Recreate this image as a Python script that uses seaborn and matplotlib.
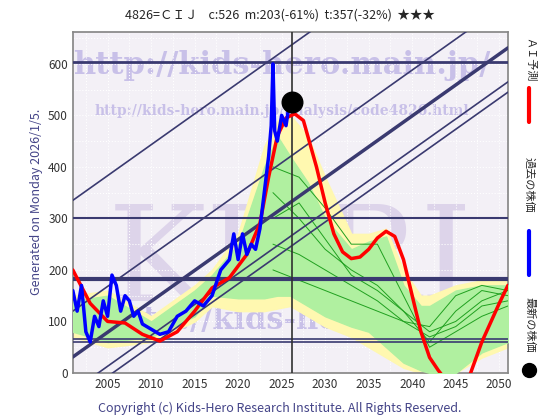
import matplotlib
matplotlib.use('agg')
import matplotlib.pyplot as plt
import seaborn as sns
import numpy as np

sns.set_theme(style='white')
plt.rcParams['font.family'] = ['Noto Sans CJK JP', 'DejaVu Sans']

# AI prediction (red)
ai_year = [2001, 2003, 2005, 2007, 2009, 2011, 2013, 2015, 2017, 2019, 2021, 2022.5, 2023.5, 2024.5, 2025.5,
           2026.5, 2027.5, 2029, 2030, 2031, 2032, 2033, 2034, 2035, 2036, 2037, 2038, 2039, 2040, 2041, 2042, 2043, 2043.7,
           2046.5, 2048, 2050, 2051]
ai_val = [200, 135, 100, 97, 75, 62, 80, 120, 165, 185, 230, 290, 380, 460, 495,
          503, 490, 400, 330, 270, 235, 222, 225, 240, 262, 275, 265, 220, 150, 80, 30, 5, -10,
          -10, 60, 135, 170]

# past price (blue)
px_year = [2001, 2001.5, 2002, 2002.5, 2003, 2003.5, 2004, 2004.5, 2005, 2005.5, 2006, 2006.5, 2007, 2007.5, 2008,
           2008.5, 2009, 2010, 2011, 2012, 2013, 2014, 2015, 2016, 2017, 2018, 2019, 2019.5, 2020, 2020.5, 2021,
           2021.5, 2022, 2022.5, 2023, 2023.5, 2023.8, 2024, 2024.2, 2024.5, 2025, 2025.5, 2025.9]
px_val = [160, 120, 170, 80, 60, 110, 90, 140, 110, 190, 170, 120, 150, 140, 110,
          120, 95, 85, 75, 80, 110, 120, 140, 130, 150, 200, 220, 270, 220, 270, 230,
          250, 240, 280, 350, 420, 480, 600, 470, 450, 500, 480, 526]

# simulation envelopes
band_year = [2001, 2005, 2010, 2015, 2017, 2020, 2023, 2024.5, 2026, 2028, 2030, 2033, 2035, 2037, 2039, 2041, 2042, 2045, 2048, 2051]
yel_lo = [70, 50, 60, 100, 130, 120, 120, 125, 130, 110, 90, 70, 50, 30, 10, 0, 0, 0, 30, 50]
yel_hi = [150, 160, 110, 170, 200, 270, 440, 490, 500, 460, 380, 270, 270, 280, 200, 150, 150, 170, 180, 180]
grn_lo = [80, 60, 70, 110, 150, 145, 145, 150, 150, 130, 110, 90, 80, 50, 20, 5, 0, 0, 40, 60]
grn_hi = [140, 150, 100, 160, 190, 250, 400, 460, 420, 370, 300, 240, 255, 265, 170, 130, 130, 160, 170, 170]

# a few simulated paths (thin green)
sim_year = [2024, 2027, 2030, 2033, 2036, 2039, 2042, 2045, 2048, 2051]
sim_paths = [
    [300, 330, 260, 190, 160, 120, 80, 100, 140, 160],
    [350, 300, 240, 200, 170, 120, 60, 120, 160, 150],
    [250, 230, 200, 170, 140, 100, 70, 90, 130, 140],
    [400, 380, 320, 250, 250, 150, 50, 80, 110, 130],
    [200, 180, 160, 140, 120, 100, 90, 150, 170, 160],
]

diag_slope = 12.0
diag_icpt = [335, 120, 31, -35, -55]
diag_width = [1.2, 1.2, 2.5, 1.2, 1.2]
hlines = [603, 300, 183, 66, 60]
hwidth = [2, 1.5, 3, 1.2, 1.2]

fig = plt.figure(figsize=(5.6, 4.2), dpi=100)
ax = fig.add_axes([0.130, 0.112, 0.777, 0.812])
ax.set_facecolor('#f3f0f6')
ax.set_xlim(2001, 2051)
ax.set_ylim(0, 662)

ax.text(2026, 210, 'KHRI', fontsize=95, family='DejaVu Serif', color='#d8cde8', alpha=0.8, ha='center', va='center', zorder=0)
ax.text(2025, 580, 'http://kids-hero.main.jp/', fontsize=22, family='DejaVu Serif', weight='bold', color='#c8c0e8', ha='center', zorder=1)
ax.text(2025, 500, 'http://kids-hero.main.jp/analysis/code4826.html', fontsize=10, family='DejaVu Serif', weight='bold', color='#c8c0e8', ha='center', zorder=1)
ax.text(2005, 85, 'http://kids-hero.main.jp/', fontsize=22, family='DejaVu Serif', weight='bold', color='#c8c0e8', ha='left', zorder=1, clip_on=True)

for v in np.arange(2002.5, 2051, 2.5):
    ax.axvline(v, color='white', lw=0.8, ls=':', zorder=1)
for v in range(50, 662, 50):
    ax.axhline(v, color='white', lw=0.8, ls=':', zorder=1)

ax.fill_between(band_year, yel_lo, yel_hi, color='#fff8b0', zorder=2)
ax.fill_between(band_year, grn_lo, grn_hi, color='#b0f0a0', zorder=3)
for p in sim_paths:
    sns.lineplot(x=sim_year, y=p, color='#20a020', lw=0.7, ax=ax, zorder=4)

xs = np.array([2001, 2051])
for b, w in zip(diag_icpt, diag_width):
    ax.plot(xs, b + diag_slope * (xs - 2001), color='#3a3a70', lw=w, zorder=5)
for h, w in zip(hlines, hwidth):
    ax.axhline(h, color='#3a3a70', lw=w, zorder=5)
ax.axvline(2026.2, color='#303030', lw=1.2, zorder=6)

sns.lineplot(x=ai_year, y=ai_val, color='red', lw=2.5, ax=ax, zorder=7)
sns.lineplot(x=px_year, y=px_val, color='blue', lw=2.5, ax=ax, zorder=8)
ax.scatter([2026.2], [526], s=220, color='black', zorder=9)

ax.set_xticks(range(2005, 2051, 5))
ax.set_yticks(range(0, 601, 100))
ax.tick_params(labelsize=8.5, length=3, direction='in', colors='#333333')
for s in ax.spines.values():
    s.set_color('#888888')

fig.text(0.5, 0.955, '4826=ＣＩＪ    c:526  m:203(-61%)  t:357(-32%)  ★★★', ha='center', fontsize=9)
fig.text(0.065, 0.52, 'Generated on Monday 2026/1/5.', rotation=90, ha='center', va='center', fontsize=9, color='#444488')
fig.text(0.5, 0.02, 'Copyright (c) Kids-Hero Research Institute. All Rights Reserved.', ha='center', fontsize=9, color='#444488')
fig.text(0.945, 0.857, 'ＡＩ予測', rotation=270, ha='center', va='center', fontsize=8)
fig.add_artist(plt.Line2D([0.945, 0.945], [0.71, 0.79], color='red', lw=3))
fig.text(0.945, 0.56, '過去の株価', rotation=270, ha='center', va='center', fontsize=8)
fig.add_artist(plt.Line2D([0.945, 0.945], [0.345, 0.45], color='blue', lw=3))
fig.text(0.945, 0.226, '最新の株価', rotation=270, ha='center', va='center', fontsize=8)
fig.add_artist(plt.Line2D([0.945], [0.12], marker='o', ms=10, color='black'))

fig.savefig('out.png')
